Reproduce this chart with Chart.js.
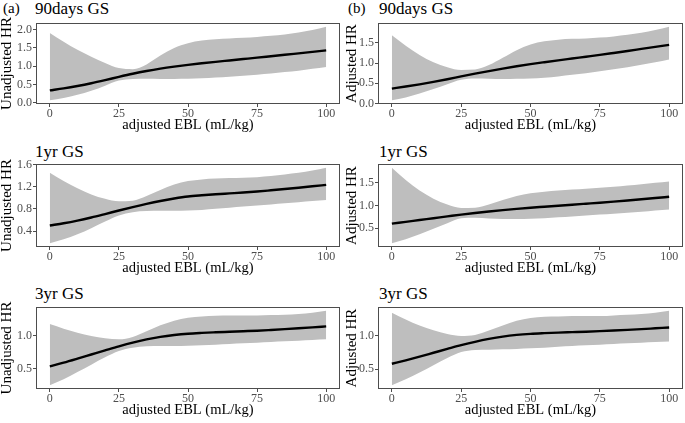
<!DOCTYPE html>
<html>
<head>
<meta charset="utf-8">
<script src="https://cdn.jsdelivr.net/npm/chart.js@4/dist/chart.umd.min.js"></script>
<style>
    body { margin: 0; width: 685px; height: 423px; background: #fff; position: relative; overflow: hidden; }
    canvas { position: absolute; }
    .lbl { position: absolute; font-family: "Liberation Serif", "Times New Roman", serif; color: #000; line-height: 1; white-space: nowrap; }
    .tag { font-size: 15px; }
    .ttl { font-size: 17px; }
</style>
</head>
<body>
<div class="lbl tag" style="left:3px;top:1px;">(a)</div>
<div class="lbl ttl" style="left:35px;top:0px;">90days GS</div>
<div class="lbl tag" style="left:348px;top:1px;">(b)</div>
<div class="lbl ttl" style="left:379px;top:0px;">90days GS</div>
<div class="lbl ttl" style="left:35px;top:143px;">1yr GS</div>
<div class="lbl ttl" style="left:379px;top:143px;">1yr GS</div>
<div class="lbl ttl" style="left:35px;top:285px;">3yr GS</div>
<div class="lbl ttl" style="left:379px;top:285px;">3yr GS</div>

<canvas id="a1"></canvas>
<canvas id="b1"></canvas>
<canvas id="a2"></canvas>
<canvas id="b2"></canvas>
<canvas id="a3"></canvas>
<canvas id="b3"></canvas>

<script>
// x grid shared by all panels (adjusted EBL, mL/kg)
const ebl = [0, 5, 10, 15, 20, 25, 30, 35, 40, 45, 50, 55, 60, 65, 70, 75, 80, 85, 90, 95, 100];
const xTicks = [0, 25, 50, 75, 100];

// (a) unadjusted HR, 90 days
const a90Fit = [0.34, 0.395, 0.46, 0.535, 0.62, 0.71, 0.795, 0.87, 0.935, 0.99, 1.038, 1.08, 1.12, 1.158, 1.196, 1.234, 1.273, 1.312, 1.352, 1.392, 1.432];
const a90Lo  = [0.07, 0.13, 0.22, 0.33, 0.47, 0.61, 0.655, 0.66, 0.655, 0.655, 0.66, 0.67, 0.69, 0.71, 0.74, 0.77, 0.80, 0.84, 0.88, 0.93, 0.98];
const a90Hi  = [1.91, 1.67, 1.45, 1.26, 1.09, 0.95, 0.92, 1.05, 1.29, 1.50, 1.63, 1.70, 1.74, 1.76, 1.78, 1.80, 1.83, 1.87, 1.92, 1.99, 2.08];
const a90Ticks = [0, 0.5, 1.0, 1.5, 2.0];

// (b) adjusted HR, 90 days
const b90Fit = [0.37, 0.42, 0.475, 0.535, 0.60, 0.67, 0.738, 0.803, 0.864, 0.921, 0.974, 1.022, 1.068, 1.113, 1.158, 1.203, 1.251, 1.30, 1.35, 1.40, 1.45];
const b90Lo  = [0.08, 0.15, 0.25, 0.36, 0.48, 0.59, 0.62, 0.615, 0.605, 0.61, 0.62, 0.64, 0.67, 0.71, 0.75, 0.80, 0.85, 0.90, 0.96, 1.02, 1.09];
const b90Hi  = [1.69, 1.43, 1.20, 1.02, 0.90, 0.83, 0.84, 0.95, 1.13, 1.32, 1.46, 1.54, 1.58, 1.60, 1.61, 1.63, 1.66, 1.70, 1.75, 1.82, 1.90];
const b90Ticks = [0, 0.5, 1.0, 1.5];

// (a) unadjusted HR, 1 year
const a1yFit = [0.50, 0.54, 0.588, 0.644, 0.706, 0.77, 0.832, 0.89, 0.942, 0.986, 1.022, 1.044, 1.062, 1.078, 1.094, 1.112, 1.134, 1.157, 1.181, 1.206, 1.232];
const a1yLo  = [0.18, 0.25, 0.34, 0.45, 0.57, 0.68, 0.74, 0.76, 0.765, 0.765, 0.77, 0.78, 0.80, 0.82, 0.84, 0.86, 0.88, 0.90, 0.92, 0.94, 0.96];
const a1yHi  = [1.45, 1.30, 1.17, 1.06, 0.98, 0.935, 0.945, 1.03, 1.14, 1.24, 1.30, 1.33, 1.345, 1.355, 1.36, 1.37, 1.39, 1.42, 1.45, 1.49, 1.54];
const a1yTicks = [0.4, 0.8, 1.2, 1.6];

// (b) adjusted HR, 1 year
const b1yFit = [0.60, 0.64, 0.68, 0.72, 0.76, 0.80, 0.836, 0.868, 0.898, 0.926, 0.952, 0.974, 0.996, 1.018, 1.04, 1.062, 1.086, 1.111, 1.137, 1.164, 1.192];
const b1yLo  = [0.17, 0.26, 0.37, 0.49, 0.61, 0.72, 0.73, 0.715, 0.705, 0.705, 0.71, 0.72, 0.74, 0.76, 0.78, 0.80, 0.82, 0.84, 0.86, 0.89, 0.91];
const b1yHi  = [1.83, 1.56, 1.33, 1.15, 1.02, 0.945, 0.95, 1.02, 1.12, 1.21, 1.27, 1.305, 1.33, 1.35, 1.37, 1.39, 1.41, 1.44, 1.47, 1.50, 1.53];
const b1yTicks = [0.5, 1.0, 1.5];

// (a) unadjusted HR, 3 years
const a3yFit = [0.535, 0.59, 0.65, 0.712, 0.774, 0.835, 0.891, 0.939, 0.977, 1.005, 1.025, 1.037, 1.046, 1.054, 1.062, 1.07, 1.081, 1.093, 1.106, 1.12, 1.135];
const a3yLo  = [0.25, 0.34, 0.45, 0.56, 0.67, 0.765, 0.815, 0.835, 0.84, 0.84, 0.845, 0.85, 0.86, 0.87, 0.88, 0.89, 0.90, 0.91, 0.92, 0.93, 0.94];
const a3yHi  = [1.17, 1.10, 1.04, 0.99, 0.955, 0.94, 0.975, 1.06, 1.15, 1.22, 1.265, 1.285, 1.295, 1.30, 1.30, 1.30, 1.305, 1.31, 1.32, 1.34, 1.37];
const a3yTicks = [0.5, 1.0];

// (b) adjusted HR, 3 years
const b3yFit = [0.58, 0.632, 0.687, 0.744, 0.801, 0.857, 0.907, 0.95, 0.985, 1.01, 1.026, 1.036, 1.044, 1.051, 1.058, 1.066, 1.075, 1.085, 1.096, 1.108, 1.12];
const b3yLo  = [0.26, 0.35, 0.45, 0.56, 0.665, 0.755, 0.785, 0.79, 0.795, 0.80, 0.81, 0.82, 0.835, 0.845, 0.855, 0.865, 0.875, 0.885, 0.895, 0.905, 0.91];
const b3yHi  = [1.34, 1.24, 1.15, 1.08, 1.025, 0.995, 1.01, 1.075, 1.15, 1.22, 1.26, 1.28, 1.285, 1.29, 1.29, 1.29, 1.30, 1.31, 1.32, 1.34, 1.37];
const b3yTicks = [0.5, 1.0];

const FONT = '"Liberation Serif", "Times New Roman", serif';
const RIBBON = '#bebebe';
const FRAME = '#4d4d4d';

// panel box rows (top/bottom of plot area in page px)
const rowTop = [23, 164, 307];
const rowBottom = [104, 247, 389];

// draws the grey frame around the plot area, like ggplot's panel border
const frame = {
    id: 'frame',
    afterDatasetsDraw(chart) {
        const a = chart.chartArea;
        const ctx = chart.ctx;
        ctx.save();
        ctx.strokeStyle = FRAME;
        ctx.lineWidth = 1;
        ctx.strokeRect(Math.round(a.left) + 0.5, Math.round(a.top) + 0.5,
            Math.round(a.right - a.left) - 1, Math.round(a.bottom - a.top) - 1);
        ctx.restore();
    }
};

function pts(ys) {
    return ebl.map((x, i) => ({ x: x, y: ys[i] }));
}

function makePanel(id, col, row, fit, lo, hi, yTicks, yTitle) {
    const cv = document.getElementById(id);
    const left = col === 0 ? 0 : 342;
    const width = col === 0 ? 342 : 343;
    const top = rowTop[row] - 22;
    const height = (rowBottom[row] - rowTop[row]) + 22 + 28 + 1;
    cv.width = width;
    cv.height = height;
    cv.style.left = left + 'px';
    cv.style.top = top + 'px';
    cv.style.width = width + 'px';
    cv.style.height = height + 'px';

    // ggplot-style 5% expansion of the data range
    const yMin = Math.min(...lo), yMax = Math.max(...hi);
    const pad = (yMax - yMin) * 0.05;

    new Chart(cv, {
        type: 'line',
        data: {
            datasets: [
                {
                    data: pts(fit), borderColor: '#000', borderWidth: 2.4,
                    pointRadius: 0, fill: false, cubicInterpolationMode: 'monotone', order: 0
                },
                {
                    data: pts(hi), borderWidth: 0, borderColor: RIBBON, backgroundColor: RIBBON,
                    pointRadius: 0, fill: '+1', cubicInterpolationMode: 'monotone', order: 1
                },
                {
                    data: pts(lo), borderWidth: 0, borderColor: RIBBON,
                    pointRadius: 0, fill: false, cubicInterpolationMode: 'monotone', order: 2
                }
            ]
        },
        options: {
            responsive: false,
            animation: false,
            layout: { padding: { top: 22, bottom: 1, left: 0, right: 2 } },
            plugins: { legend: { display: false }, tooltip: { enabled: false } },
            scales: {
                x: {
                    type: 'linear', min: -5, max: 105,
                    afterBuildTicks: s => { s.ticks = xTicks.map(v => ({ value: v })); },
                    afterFit: s => { s.height = 28; },
                    border: { display: false },
                    grid: { drawOnChartArea: false, drawTicks: true, tickLength: 3, color: FRAME },
                    ticks: { color: '#4d4d4d', padding: 0, font: { family: FONT, size: 12 }, callback: v => String(v) },
                    title: {
                        display: true, text: 'adjusted EBL (mL/kg)', color: '#000',
                        padding: 0, font: { family: FONT, size: 14.5, lineHeight: 1 }
                    }
                },
                y: {
                    min: yMin - pad, max: yMax + pad,
                    afterBuildTicks: s => { s.ticks = yTicks.map(v => ({ value: v })); },
                    afterFit: s => { s.width = 36; },
                    border: { display: false },
                    grid: { drawOnChartArea: false, drawTicks: true, tickLength: 3, color: FRAME },
                    ticks: { color: '#4d4d4d', padding: 1, font: { family: FONT, size: 12 }, callback: v => v.toFixed(1) },
                    title: {
                        display: true, text: yTitle, color: '#000',
                        padding: { top: col === 0 ? 0 : 2.5, bottom: 0 },
                        font: { family: FONT, size: 15, lineHeight: 1 }
                    }
                }
            }
        },
        plugins: [frame]
    });
}

makePanel('a1', 0, 0, a90Fit, a90Lo, a90Hi, a90Ticks, 'Unadjusted HR');
makePanel('b1', 1, 0, b90Fit, b90Lo, b90Hi, b90Ticks, 'Adjusted HR');
makePanel('a2', 0, 1, a1yFit, a1yLo, a1yHi, a1yTicks, 'Unadjusted HR');
makePanel('b2', 1, 1, b1yFit, b1yLo, b1yHi, b1yTicks, 'Adjusted HR');
makePanel('a3', 0, 2, a3yFit, a3yLo, a3yHi, a3yTicks, 'Unadjusted HR');
makePanel('b3', 1, 2, b3yFit, b3yLo, b3yHi, b3yTicks, 'Adjusted HR');
</script>
</body>
</html>
